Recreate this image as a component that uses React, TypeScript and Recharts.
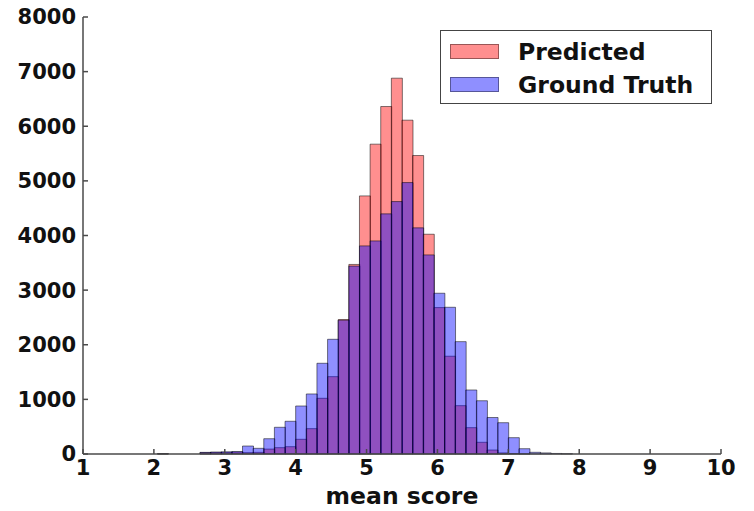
import { BarChart, Bar, XAxis, YAxis, Legend } from 'recharts'

// left edge of each histogram bin (bin width 0.15)
const binStart = [
    2.05, 2.2, 2.35, 2.5, 2.65, 2.8, 2.95, 3.1, 3.25, 3.4, 3.55, 3.7, 3.85, 4.0, 4.15, 4.3, 4.45, 4.6, 4.75, 4.9,
    5.05, 5.2, 5.35, 5.5, 5.65, 5.8, 5.95, 6.1, 6.25, 6.4, 6.55, 6.7, 6.85, 7.0, 7.15, 7.3, 7.45, 7.6, 7.75,
]
const predicted = [
    5, 0, 0, 0, 25, 30, 30, 35, 25, 30, 90, 116, 134, 269, 464, 1020, 1416, 2460, 3470, 4725,
    5672, 6361, 6880, 6111, 5464, 4023, 2680, 1790, 885, 482, 214, 73, 20, 8, 3, 0, 0, 0, 0,
]
const groundTruth = [
    5, 0, 0, 0, 30, 35, 40, 45, 146, 104, 280, 489, 599, 879, 1099, 1661, 2100, 2450, 3440, 3810,
    3901, 4396, 4621, 4969, 4140, 3645, 2943, 2686, 2057, 1172, 975, 668, 573, 299, 97, 31, 20, 10, 5,
]
const xTicks = [1, 2, 3, 4, 5, 6, 7, 8, 9, 10]
const yTicks = [0, 1000, 2000, 3000, 4000, 5000, 6000, 7000, 8000]

const BIN = 0.15
const table = binStart.map((s, i) => ({
    x: +(s + BIN / 2).toFixed(3),
    predicted: predicted[i],
    truth: groundTruth[i],
}))

const font = '"DejaVu Sans", sans-serif'
const frame = { stroke: '#4a4a4a', strokeWidth: 1.5 }
const tickStyle = { fill: '#111', fontSize: 21, fontWeight: 700, fontFamily: font }

const RED = 'rgba(255, 0, 0, 0.44)'
const BLUE = 'rgba(0, 0, 255, 0.44)'

function LegendBox() {
    const items = [
        { label: 'Predicted', color: RED },
        { label: 'Ground Truth', color: BLUE },
    ]
    return (
        <div
            style={{
                width: 272,
                height: 74,
                boxSizing: 'border-box',
                border: '1.5px solid #444',
                background: '#fff',
                padding: '4px 0 0 9px',
                fontFamily: font,
            }}
        >
            {items.map((it) => (
                <div key={it.label} style={{ display: 'flex', alignItems: 'center', height: 33 }}>
                    <div
                        style={{
                            width: 49,
                            height: 15,
                            background: it.color,
                            border: '1px solid rgba(0,0,0,0.4)',
                            boxSizing: 'border-box',
                        }}
                    ></div>
                    <span style={{ marginLeft: 19, fontSize: 23.5, fontWeight: 700, color: '#111' }}>{it.label}</span>
                </div>
            ))}
        </div>
    )
}

export default function App() {
    return (
        <div style={{ position: 'absolute', left: 0, top: 0, width: 754, height: 511, background: '#fff' }}>
            <BarChart
                width={754}
                height={511}
                data={table}
                margin={{ top: 17, right: 33, left: 13, bottom: 7 }}
                barCategoryGap={0}
                barGap={0}
            >
                <XAxis
                    xAxisId="a"
                    dataKey="x"
                    type="number"
                    domain={[1, 10]}
                    ticks={xTicks}
                    allowDataOverflow
                    height={50}
                    tickSize={-5}
                    tickMargin={11}
                    axisLine={frame}
                    tickLine={frame}
                    tick={tickStyle}
                    label={{
                        value: 'mean score',
                        position: 'insideBottom',
                        offset: 0,
                        style: { fill: '#111', fontSize: 23.5, fontWeight: 700, fontFamily: font },
                    }}
                />
                <XAxis xAxisId="b" dataKey="x" type="number" domain={[1, 10]} allowDataOverflow hide />
                <XAxis
                    xAxisId="top"
                    orientation="top"
                    type="number"
                    domain={[1, 10]}
                    ticks={xTicks}
                    height={0}
                    tickSize={-5}
                    tick={false}
                    axisLine={frame}
                    tickLine={frame}
                />
                <YAxis
                    yAxisId="l"
                    domain={[0, 8000]}
                    ticks={yTicks}
                    width={70}
                    tickSize={-5}
                    tickMargin={12}
                    axisLine={frame}
                    tickLine={frame}
                    tick={tickStyle}
                />
                <YAxis
                    yAxisId="r"
                    orientation="right"
                    domain={[0, 8000]}
                    ticks={yTicks}
                    width={0}
                    tickSize={-5}
                    tick={false}
                    axisLine={frame}
                    tickLine={frame}
                />
                <Legend
                    layout="vertical"
                    align="center"
                    verticalAlign="middle"
                    content={() => <LegendBox />}
                    wrapperStyle={{ left: 440, top: 30, width: 272, height: 74 }}
                />
                <Bar
                    xAxisId="a"
                    yAxisId="l"
                    dataKey="predicted"
                    name="Predicted"
                    fill={RED}
                    stroke="rgba(0,0,0,0.5)"
                    strokeWidth={1}
                    isAnimationActive={false}
                />
                <Bar
                    xAxisId="b"
                    yAxisId="l"
                    dataKey="truth"
                    name="Ground Truth"
                    fill={BLUE}
                    stroke="rgba(0,0,0,0.5)"
                    strokeWidth={1}
                    isAnimationActive={false}
                />
            </BarChart>
        </div>
    )
}
